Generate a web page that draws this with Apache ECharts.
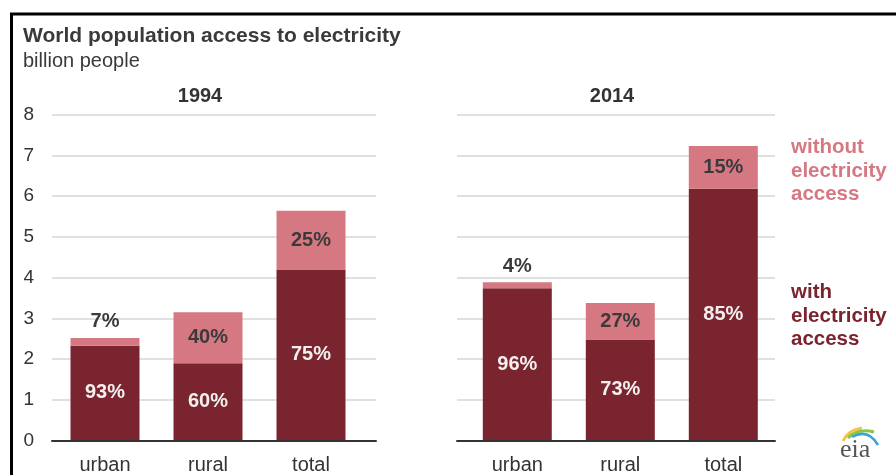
<!DOCTYPE html>
<html>
<head>
<meta charset="utf-8">
<script src="https://cdn.jsdelivr.net/npm/echarts@6/dist/echarts.min.js"></script>
<style>
html,body{margin:0;padding:0;background:#fff;}
#c{width:896px;height:475px;}
</style>
</head>
<body>
<div id="c"></div>
<script>
// ---- data ----
var categories = ['urban', 'rural', 'total'];
var panelTitles = ['1994', '2014'];
var with1994 = [2.32, 1.89, 4.19];
var without1994 = [0.19, 1.25, 1.45];
var with2014 = [3.73, 2.47, 6.18];
var without2014 = [0.15, 0.90, 1.05];
var withPct1994 = ['93%', '60%', '75%'];
var withoutPct1994 = ['7%', '40%', '25%'];
var withPct2014 = ['96%', '73%', '85%'];
var withoutPct2014 = ['4%', '27%', '15%'];
var yTicks = [0, 1, 2, 3, 4, 5, 6, 7, 8];

var DARK = '#7a2430';
var PINK = '#d67882';
var FONT = 'Liberation Sans, Arial, sans-serif';

var chart = echarts.init(document.getElementById('c'), null, {renderer: 'canvas'});

var plotTop = 114.7, plotH = 326;

function barData(vals, pcts, isWithout) {
  return vals.map(function (v, i) {
    var d = {value: v};
    if (isWithout && v < 0.3) {
      d.label = {position: 'top', distance: 6};
    }
    return d;
  });
}

function mkSeries(idx, vals, pcts, isWithout) {
  return {
    type: 'bar',
    xAxisIndex: idx,
    yAxisIndex: idx,
    stack: 's' + idx,
    barWidth: 69,
    itemStyle: {color: isWithout ? PINK : DARK},
    data: barData(vals, pcts, isWithout),
    label: {
      show: true,
      position: 'inside',
      fontFamily: FONT,
      fontWeight: 'bold',
      fontSize: 20,
      color: isWithout ? '#3a3a3a' : '#f4f0f0',
      formatter: function (p) { return pcts[p.dataIndex]; }
    },
    silent: true,
    animation: false
  };
}

var option = {
  animation: false,
  textStyle: {fontFamily: FONT},
  grid: [
    {left: 53.5, width: 309, top: plotTop, height: plotH},
    {left: 465.8, width: 309, top: plotTop, height: plotH},
    {left: 52, width: 324, top: plotTop, height: plotH},
    {left: 457, width: 318, top: plotTop, height: plotH}
  ],
  xAxis: [
    {gridIndex: 0, type: 'category', data: categories, axisLine: {show: false}, axisTick: {show: false},
     axisLabel: {fontSize: 20, color: '#333', margin: 15, fontFamily: FONT}},
    {gridIndex: 1, type: 'category', data: categories, axisLine: {show: false}, axisTick: {show: false},
     axisLabel: {fontSize: 20, color: '#333', margin: 15, fontFamily: FONT}},
    {gridIndex: 2, type: 'value', min: 0, max: 1, axisLine: {show: true, lineStyle: {color: '#333', width: 2}},
     axisTick: {show: false}, axisLabel: {show: false}, splitLine: {show: false}},
    {gridIndex: 3, type: 'value', min: 0, max: 1, axisLine: {show: true, lineStyle: {color: '#333', width: 2}},
     axisTick: {show: false}, axisLabel: {show: false}, splitLine: {show: false}}
  ],
  yAxis: [
    {gridIndex: 0, type: 'value', min: 0, max: 8, interval: 1, show: false},
    {gridIndex: 1, type: 'value', min: 0, max: 8, interval: 1, show: false},
    {gridIndex: 2, type: 'value', min: 0, max: 8, interval: 1,
     axisLine: {show: false}, axisTick: {show: false},
     axisLabel: {fontSize: 19, color: '#333', margin: 18, fontFamily: FONT},
     splitLine: {show: true, lineStyle: {color: '#e0e0e0', width: 2}}},
    {gridIndex: 3, type: 'value', min: 0, max: 8, interval: 1,
     axisLine: {show: false}, axisTick: {show: false}, axisLabel: {show: false},
     splitLine: {show: true, lineStyle: {color: '#e0e0e0', width: 2}}}
  ],
  series: [
    mkSeries(0, with1994, withPct1994, false),
    mkSeries(0, without1994, withoutPct1994, true),
    mkSeries(1, with2014, withPct2014, false),
    mkSeries(1, without2014, withoutPct2014, true)
  ],
  graphic: [
    // frame
    {type: 'line', shape: {x1: 10, y1: 14, x2: 896, y2: 14}, style: {stroke: '#000', lineWidth: 3}, silent: true},
    {type: 'line', shape: {x1: 11.5, y1: 13, x2: 11.5, y2: 475}, style: {stroke: '#000', lineWidth: 3}, silent: true},
    // titles
    {type: 'text', left: 23, top: 26, style: {text: 'World population access to electricity', fontFamily: FONT, fontWeight: 'bold', fontSize: 21, fill: '#3a3a3a'}},
    {type: 'text', left: 23, top: 51, style: {text: 'billion people', fontFamily: FONT, fontSize: 20, fill: '#3a3a3a'}},
    {type: 'text', x: 200, y: 96, style: {text: panelTitles[0], fontFamily: FONT, fontWeight: 'bold', fontSize: 20, fill: '#333', align: 'center', verticalAlign: 'middle'}},
    {type: 'text', x: 612, y: 96, style: {text: panelTitles[1], fontFamily: FONT, fontWeight: 'bold', fontSize: 20, fill: '#333', align: 'center', verticalAlign: 'middle'}},
    // legend labels
    {type: 'text', x: 791, y: 136, style: {text: 'without\nelectricity\naccess', fontFamily: FONT, fontWeight: 'bold', fontSize: 20.5, lineHeight: 23.5, fill: PINK, verticalAlign: 'top'}},
    {type: 'text', x: 791, y: 281, style: {text: 'with\nelectricity\naccess', fontFamily: FONT, fontWeight: 'bold', fontSize: 20.5, lineHeight: 23.5, fill: DARK, verticalAlign: 'top'}},
    // eia logo
    {type: 'bezierCurve', shape: {x1: 843, y1: 441, cpx1: 848, cpy1: 430, x2: 862, y2: 428}, style: {stroke: '#f3c44b', lineWidth: 3, fill: null}, silent: true},
    {type: 'bezierCurve', shape: {x1: 848, y1: 438, cpx1: 858, cpy1: 428, x2: 874, y2: 432}, style: {stroke: '#8cc540', lineWidth: 3, fill: null}, silent: true},
    {type: 'bezierCurve', shape: {x1: 852, y1: 437, cpx1: 868, cpy1: 428, x2: 878, y2: 445}, style: {stroke: '#3aa3d8', lineWidth: 2.5, fill: null}, silent: true},
    {type: 'text', x: 840, y: 437, style: {text: 'eia', fontFamily: 'Liberation Serif, DejaVu Serif, serif', fontSize: 26, fill: '#555', verticalAlign: 'top'}}
  ]
};
chart.setOption(option);
</script>
</body>
</html>
